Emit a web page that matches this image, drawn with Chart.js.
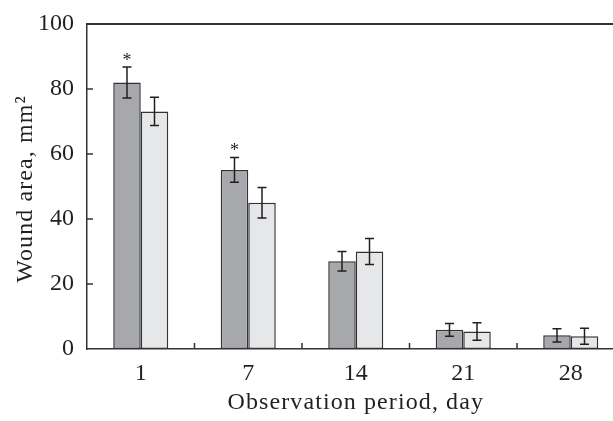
<!DOCTYPE html>
<html>
<head>
<meta charset="utf-8">
<script src="https://cdn.jsdelivr.net/npm/chart.js@4/dist/chart.umd.min.js"></script>
<style>
html,body{margin:0;padding:0;background:#fff;overflow:hidden;}
#wrap{width:630px;height:421px;position:relative;}
</style>
</head>
<body>
<div id="wrap"><canvas id="c"></canvas></div>
<script>
const categories = ['1', '7', '14', '21', '28'];
const seriesA = [82.0, 55.1, 27.0, 5.9, 4.2];
const seriesB = [73.1, 45.0, 30.0, 5.4, 3.9];
const errA = [4.8, 3.8, 3.0, 1.95, 2.05];
const errB = [4.35, 4.7, 4.0, 2.7, 2.45];
const significant = [true, true, false, false, false];
const yTicks = [0, 20, 40, 60, 80, 100];
const xTitle = 'Observation period, day';
const yTitle = 'Wound area, mm²';

const INK = '#231f20';
const FONT = '"Liberation Serif", "DejaVu Serif", serif';

const decorPlugin = {
  id: 'decor',
  afterDatasetsDraw(chart) {
    const ctx = chart.ctx;
    const xs = chart.scales.x, ys = chart.scales.y;
    const area = chart.chartArea;
    ctx.save();
    ctx.strokeStyle = INK;
    ctx.lineWidth = 1.5;
    const errs = [errA, errB];
    chart.data.datasets.forEach((ds, di) => {
      const meta = chart.getDatasetMeta(di);
      meta.data.forEach((bar, i) => {
        const v = ds.data[i], e = errs[di][i];
        const x = bar.x;
        const yt = ys.getPixelForValue(v + e);
        const yb = ys.getPixelForValue(v - e);
        ctx.beginPath();
        ctx.moveTo(x, yt); ctx.lineTo(x, yb);
        ctx.moveTo(x - 4.5, yt); ctx.lineTo(x + 4.5, yt);
        ctx.moveTo(x - 4.5, yb); ctx.lineTo(x + 4.5, yb);
        ctx.stroke();
        if (di === 0 && significant[i]) {
          ctx.fillStyle = INK;
          ctx.font = '18px ' + FONT;
          ctx.textAlign = 'center';
          ctx.textBaseline = 'middle';
          ctx.fillText('*', x, yt - 6);
        }
      });
    });
    // top border
    ctx.lineWidth = 2;
    ctx.strokeStyle = '#333';
    ctx.beginPath();
    ctx.moveTo(area.left, area.top);
    ctx.lineTo(area.right, area.top);
    ctx.stroke();
    // inward ticks on y axis
    ctx.lineWidth = 1.5;
    yTicks.forEach(t => {
      if (t === 0 || t === 100) return;
      const y = ys.getPixelForValue(t);
      ctx.beginPath();
      ctx.moveTo(area.left, y); ctx.lineTo(area.left + 6, y);
      ctx.stroke();
    });
    // inward ticks on x axis at category boundaries
    for (let i = 0; i < categories.length - 1; i++) {
      const xb = (xs.getPixelForValue(i) + xs.getPixelForValue(i + 1)) / 2;
      ctx.beginPath();
      ctx.moveTo(xb, area.bottom); ctx.lineTo(xb, area.bottom - 6);
      ctx.stroke();
    }
    // axis titles
    ctx.fillStyle = INK;
    ctx.font = '24px ' + FONT;
    try { ctx.letterSpacing = '1.1px'; } catch (e) {}
    ctx.textAlign = 'center';
    ctx.textBaseline = 'alphabetic';
    ctx.fillText(xTitle, (area.left + area.right) / 2, 408.5);
    ctx.save();
    ctx.translate(32, 189);
    ctx.rotate(-Math.PI / 2);
    ctx.fillText(yTitle, 0, 0);
    ctx.restore();
    ctx.restore();
  }
};

new Chart(document.getElementById('c'), {
  type: 'bar',
  data: {
    labels: categories,
    datasets: [
      { data: seriesA, backgroundColor: '#a7a8ab', borderColor: '#333', borderWidth: 1.5, borderSkipped: false },
      { data: seriesB, backgroundColor: '#e6e7e8', borderColor: '#333', borderWidth: 1.5, borderSkipped: false }
    ]
  },
  options: {
    responsive: true,
    maintainAspectRatio: false,
    animation: false,
    devicePixelRatio: 1,
    layout: { padding: { left: 0, top: 24, right: 5.5, bottom: 0 } },
    plugins: { legend: { display: false }, tooltip: { enabled: false } },
    datasets: { bar: { categoryPercentage: 0.512, barPercentage: 1.0 } },
    scales: {
      x: {
        grid: { display: false, drawTicks: false },
        border: { display: true, color: '#333', width: 1.5 },
        ticks: { color: INK, font: { family: FONT, size: 24 }, padding: 10 },
        afterFit(s) { s.height = 72; s.paddingLeft = 0; s.paddingRight = 0; }
      },
      y: {
        min: 0, max: 100,
        afterBuildTicks(s) { s.ticks = yTicks.map(v => ({ value: v })); },
        grid: { display: false, drawTicks: false },
        border: { display: true, color: '#333', width: 1.5 },
        ticks: { color: INK, font: { family: FONT, size: 24 }, padding: 13 },
        afterFit(s) { s.width = 87; s.paddingTop = 0; s.paddingBottom = 0; }
      }
    }
  },
  plugins: [decorPlugin]
});
</script>
</body>
</html>
